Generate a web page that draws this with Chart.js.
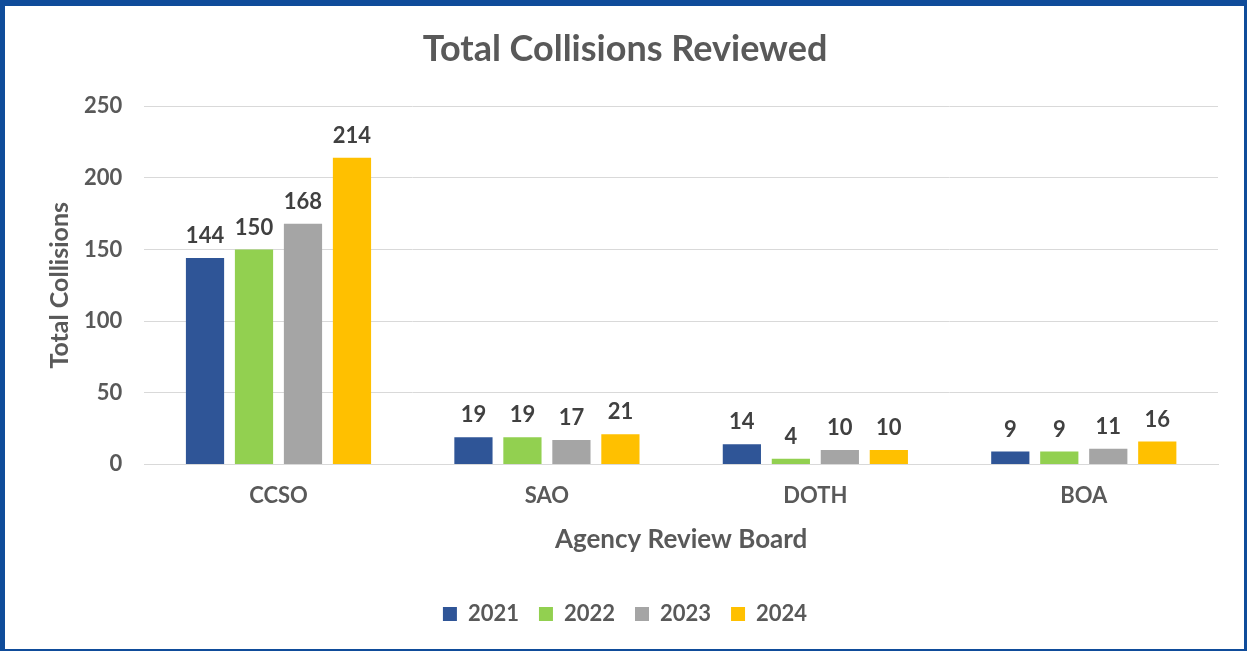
<!DOCTYPE html>
<html>
<head>
<meta charset="utf-8">
<script src="https://cdn.jsdelivr.net/npm/chart.js@4/dist/chart.umd.min.js"></script>
<style>
  html, body { margin: 0; padding: 0; background: #fff; }
  .frame {
    position: absolute; left: 0; top: 0;
    width: 1247px; height: 651px; box-sizing: border-box;
    border-style: solid; border-color: #0f4c9a;
    border-width: 6px 3px 2px 5px;
    background: #fff;
  }
  .frame canvas { display: block; }
</style>
</head>
<body>
<div class="frame"><canvas id="chart" width="1239" height="643"></canvas></div>
<script>
const categories = ['CCSO', 'SAO', 'DOTH', 'BOA'];
const years = ['2021', '2022', '2023', '2024'];
const values2021 = [144, 19, 14, 9];
const values2022 = [150, 19, 4, 9];
const values2023 = [168, 17, 10, 11];
const values2024 = [214, 21, 10, 16];
const yTicks = [0, 50, 100, 150, 200, 250];
const colors = ['#2f5597', '#92d050', '#a5a5a5', '#ffc000'];

const textColor = '#595959';
const fontFamily = 'Lato, "Open Sans", sans-serif';

// Draw value labels above each bar
const barLabels = {
  id: 'barLabels',
  afterDatasetsDraw(chart) {
    const ctx = chart.ctx;
    ctx.save();
    ctx.font = 'bold 22px ' + fontFamily;
    ctx.fillStyle = '#404040';
    ctx.textAlign = 'center';
    ctx.textBaseline = 'bottom';
    chart.data.datasets.forEach((ds, i) => {
      chart.getDatasetMeta(i).data.forEach((bar, j) => {
        ctx.fillText(ds.data[j], bar.x, bar.y - 11);
      });
    });
    ctx.restore();
  }
};

const allValues = [values2021, values2022, values2023, values2024];

new Chart(document.getElementById('chart').getContext('2d'), {
  type: 'bar',
  data: {
    labels: categories,
    datasets: years.map((y, i) => ({
      label: y,
      data: allValues[i],
      backgroundColor: colors[i],
      borderWidth: 0,
      barPercentage: 0.78,
      categoryPercentage: 0.73
    }))
  },
  options: {
    responsive: false,
    animation: false,
    layout: { padding: { left: 27, right: 26, top: 0, bottom: 14 } },
    plugins: {
      title: {
        display: true,
        text: 'Total Collisions Reviewed',
        color: textColor,
        font: { family: fontFamily, size: 36, weight: 'bold' },
        padding: { top: 22, bottom: 35 }
      },
      legend: {
        position: 'bottom',
        labels: {
          color: textColor,
          font: { family: fontFamily, size: 22, weight: 'bold' },
          boxWidth: 14,
          boxHeight: 14,
          padding: 20
        }
      },
      tooltip: { enabled: false }
    },
    scales: {
      x: {
        grid: { display: false },
        border: { color: '#d9d9d9', width: 1 },
        ticks: {
          color: textColor,
          font: { family: fontFamily, size: 22, weight: 'bold' },
          padding: 10
        },
        title: {
          display: true,
          text: 'Agency Review Board',
          color: textColor,
          font: { family: fontFamily, size: 26, weight: 'bold' },
          padding: { top: 5, bottom: 28 }
        }
      },
      y: {
        min: 0,
        max: 250,
        afterBuildTicks(axis) {
          axis.ticks = yTicks.map(v => ({ value: v }));
        },
        grid: { color: '#d9d9d9', drawTicks: false },
        border: { display: false },
        ticks: {
          color: textColor,
          font: { family: fontFamily, size: 22, weight: 'bold' },
          padding: 22
        },
        title: {
          display: true,
          text: 'Total Collisions',
          color: textColor,
          font: { family: fontFamily, size: 25, weight: 'bold' },
          padding: { top: 13, bottom: -13 }
        }
      }
    }
  },
  plugins: [barLabels]
});
</script>
</body>
</html>
